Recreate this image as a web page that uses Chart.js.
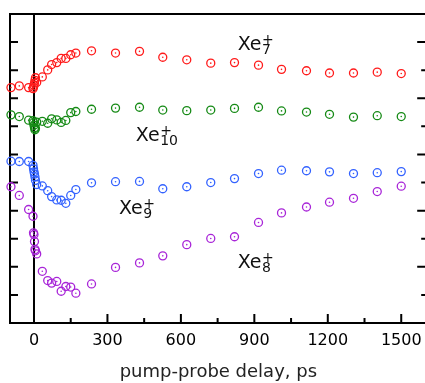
<!DOCTYPE html>
<html>
<head>
<meta charset="utf-8">
<script src="https://cdn.jsdelivr.net/npm/chart.js@4/dist/chart.umd.min.js"></script>
<style>
  html, body { margin: 0; padding: 0; overflow: hidden; background: #fff; }
  canvas { display: block; }
</style>
</head>
<body>
<canvas id="chart" width="432" height="383"></canvas>
<script>
// pump-probe delays (ps)
const delays = [-94, -60, -22, -4, -2, 0, 2, 4, 6, 11, 34, 56, 72, 93, 111, 130, 150, 171,
  235, 333, 431, 526, 624, 722, 819, 917, 1011, 1113, 1207, 1305, 1402, 1500];

// ion yields, arbitrary units (curves are offset vertically)
const xe7 = [8.38, 8.44, 8.38, 8.34, 8.39, 8.46, 8.54, 8.64, 8.73, 8.56, 8.76, 9.01, 9.20, 9.27, 9.42, 9.42, 9.55, 9.61,
  9.69, 9.61, 9.67, 9.46, 9.37, 9.25, 9.27, 9.18, 9.03, 8.98, 8.90, 8.90, 8.93, 8.88];
const xe10 = [7.41, 7.35, 7.22, 7.20, 7.13, 7.04, 6.95, 6.88, 6.93, 7.15, 7.18, 7.11, 7.27, 7.23, 7.14, 7.21, 7.49, 7.53,
  7.61, 7.65, 7.68, 7.58, 7.56, 7.58, 7.64, 7.68, 7.55, 7.51, 7.43, 7.33, 7.38, 7.35];
const xe9 = [5.76, 5.75, 5.75, 5.61, 5.49, 5.38, 5.30, 5.20, 5.08, 4.93, 4.88, 4.71, 4.50, 4.38, 4.37, 4.26, 4.54, 4.75,
  4.99, 5.03, 5.04, 4.78, 4.85, 5.00, 5.14, 5.32, 5.44, 5.42, 5.38, 5.32, 5.35, 5.39];
const xe8 = [4.85, 4.54, 4.04, 3.80, 3.21, 3.15, 2.90, 2.62, 2.57, 2.46, 1.84, 1.51, 1.42, 1.48, 1.13, 1.30, 1.28, 1.06,
  1.39, 1.98, 2.14, 2.39, 2.79, 3.01, 3.07, 3.58, 3.92, 4.13, 4.30, 4.44, 4.68, 4.87];

const seriesColors = ['#ff1a1a', '#158a15', '#3362ff', '#a825d8'];

// curve labels: charge state, position in data units
const labelCharge = ['7', '10', '9', '8'];
const labelDelay = [832, 416, 347, 832];
const labelLevel = [9.73, 6.48, 3.89, 1.96];

const xMin = -98;
const xMax = 1604;
const xTickStep = 150;
const yTickValues = [1, 2, 3, 4, 5, 6, 7, 8, 9, 10];

function toPoints(ys) {
  return delays.map((d, i) => ({ x: d, y: ys[i] }));
}

// frame, inward ticks and the t = 0 line
const framePlugin = {
  id: 'frame',
  beforeDatasetsDraw(chart) {
    const { ctx, chartArea: a, scales: { x, y } } = chart;
    const right = x.getPixelForValue(xMax);
    ctx.save();
    ctx.strokeStyle = '#000';
    ctx.lineWidth = 2;
    ctx.beginPath();
    ctx.moveTo(a.left, a.bottom + 1); ctx.lineTo(a.left, a.top - 1);
    ctx.moveTo(a.left - 1, a.top); ctx.lineTo(right + 1, a.top);
    ctx.moveTo(a.left - 1, a.bottom); ctx.lineTo(right + 1, a.bottom);
    const x0 = x.getPixelForValue(0);
    ctx.moveTo(x0, a.top); ctx.lineTo(x0, a.bottom);
    yTickValues.forEach(v => {
      const py = y.getPixelForValue(v);
      ctx.moveTo(a.left, py); ctx.lineTo(a.left + 8, py);
      const len = v % 2 === 0 ? 9.5 : 5.5;
      ctx.moveTo(right, py); ctx.lineTo(right - len, py);
    });
    for (let t = xTickStep; t <= 1500; t += xTickStep) {
      const px = x.getPixelForValue(t);
      const len = t % 300 === 0 ? 9 : 5;
      ctx.moveTo(px, a.bottom); ctx.lineTo(px, a.bottom - len);
    }
    ctx.stroke();
    ctx.restore();
  },
  afterDatasetsDraw(chart) {
    const { ctx, scales: { x, y } } = chart;
    ctx.save();
    // centre dots of the markers
    chart.data.datasets.forEach((ds, i) => {
      ctx.fillStyle = ds.borderColor;
      chart.getDatasetMeta(i).data.forEach(el => {
        ctx.beginPath();
        ctx.arc(el.x, el.y, 0.8, 0, Math.PI * 2);
        ctx.fill();
      });
    });
    // Xe_n^+ labels
    ctx.fillStyle = '#111';
    ctx.textBaseline = 'alphabetic';
    labelCharge.forEach((q, i) => {
      const px = x.getPixelForValue(labelDelay[i]);
      const py = y.getPixelForValue(labelLevel[i]);
      ctx.font = '19px "DejaVu Sans"';
      ctx.fillText('Xe', px, py);
      const w = ctx.measureText('Xe').width;
      ctx.font = '14px "DejaVu Sans"';
      ctx.fillText(q, px + w + 0.5, py + 4.5);
      ctx.fillText('+', px + w + 0.5, py - 6);
    });
    ctx.restore();
  }
};

const datasets = [xe7, xe10, xe9, xe8].map((ys, i) => ({
  data: toPoints(ys),
  borderColor: seriesColors[i],
  backgroundColor: 'rgba(0,0,0,0)',
  pointRadius: 4,
  pointBorderWidth: 1.3,
  pointHoverRadius: 4,
  showLine: false,
  clip: false
}));

new Chart(document.getElementById('chart'), {
  type: 'scatter',
  data: { datasets },
  options: {
    responsive: false,
    animation: false,
    events: [],
    layout: { padding: { top: 14, right: 4.5, left: 0, bottom: 0 } },
    plugins: { legend: { display: false }, tooltip: { enabled: false } },
    scales: {
      x: {
        type: 'linear',
        min: xMin,
        max: xMax,
        border: { display: false },
        grid: { display: false, drawTicks: false },
        ticks: {
          stepSize: xTickStep,
          includeBounds: false,
          autoSkip: false,
          maxRotation: 0,
          padding: 8,
          color: '#000',
          font: { family: 'DejaVu Sans', size: 16 },
          callback: v => (v % 300 === 0 ? String(v) : '')
        },
        title: {
          display: true,
          text: 'pump-probe delay, ps',
          color: '#222',
          font: { family: 'DejaVu Sans', size: 18 },
          padding: { top: 0, bottom: 0 }
        },
        afterFit: s => { s.height = 60; }
      },
      y: {
        min: 0,
        max: 11,
        border: { display: false },
        grid: { display: false, drawTicks: false },
        ticks: { display: false, stepSize: 1 },
        afterFit: s => { s.width = 10; }
      }
    }
  },
  plugins: [framePlugin]
});
</script>
</body>
</html>
